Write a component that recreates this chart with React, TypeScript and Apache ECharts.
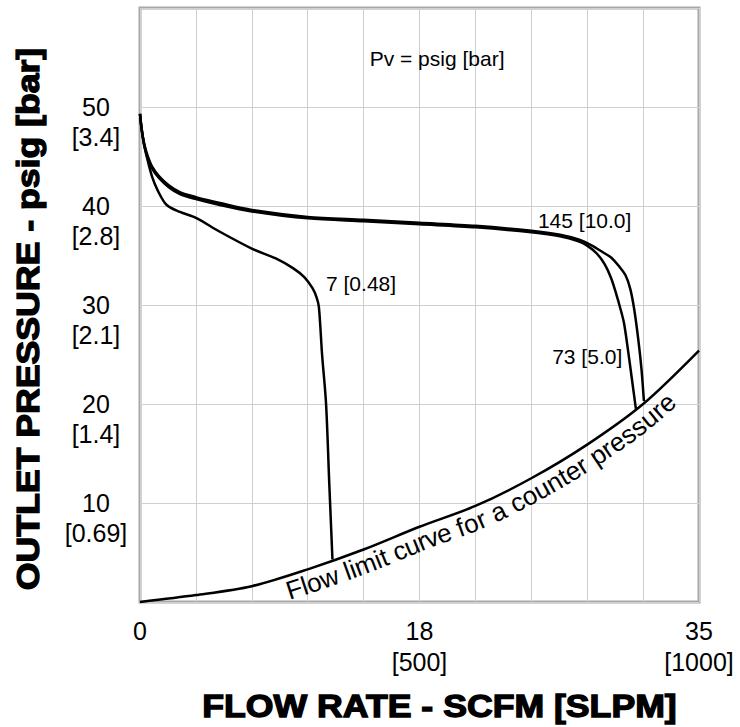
import React, { useEffect, useRef } from 'react';
import * as echarts from 'echarts';

// ---- axes ----
const xMin = 0;
const xMax = 35;
const xStep = 3.5;
const yMin = 0;
const yMax = 60;
const yStep = 10;
const xTickValues = [0, 17.5, 35];
const xTickTexts = ['0', '18\n[500]', '35\n[1000]'];
const yTickValues = [10, 20, 30, 40, 50];
const yTickTexts = ['10\n[0.69]', '20\n[1.4]', '30\n[2.1]', '40\n[2.8]', '50\n[3.4]'];
const xTitle = 'FLOW RATE - SCFM [SLPM]';
const yTitle = 'OUTLET PRESSURE - psig [bar]';

// ---- curves (x = SCFM, y = psig) ----
const flowLimitX = [0, 3.5, 7, 10.5, 14, 17.5, 21, 24.5, 28, 31.5, 35];
const flowLimitY = [0, 0.7, 1.6, 3.3, 5.3, 7.6, 9.7, 12.5, 15.9, 20, 25.4];

const curve7X = [0, 0.1, 0.25, 0.45, 0.75, 1.1, 1.67, 2.5, 3.5, 5, 7, 8.5, 9.6, 10.3, 10.8, 11.05, 11.2, 11.4, 11.65, 11.85, 12.05];
const curve7Y = [49.3, 47.8, 46.2, 44.8, 43.0, 41.6, 40.1, 39.4, 38.8, 37.4, 35.7, 34.7, 33.7, 32.8, 31.7, 30.8, 29.8, 25, 20, 12, 4.3];

const curve145X = [0, 0.1, 0.25, 0.45, 0.75, 1.2, 1.8, 2.5, 3.5, 5, 7, 10.5, 14, 17.5, 21, 24.5, 26.3, 27.5, 28.3, 29, 29.5, 30.0, 30.4, 30.7, 30.95, 31.2, 31.4, 31.55];
const curve145Y = [49.3, 47.8, 46.4, 45.2, 44.0, 43.0, 42.1, 41.4, 40.9, 40.3, 39.6, 38.9, 38.6, 38.3, 38.0, 37.5, 37.1, 36.6, 36.0, 35.3, 34.8, 33.9, 33.0, 31.6, 29.5, 26.5, 23.5, 20.3];

const curve73X = [0, 0.1, 0.25, 0.45, 0.75, 1.2, 1.8, 2.5, 3.5, 5, 7, 10.5, 14, 17.5, 21, 24.5, 26.3, 27.5, 28.0, 28.6, 29.1, 29.5, 29.8, 30.05, 30.3, 30.55, 30.8, 31.05];
const curve73Y = [49.3, 47.8, 46.3, 45.0, 43.8, 42.8, 41.9, 41.2, 40.7, 40.1, 39.45, 38.75, 38.45, 38.15, 37.85, 37.35, 36.95, 36.4, 36.0, 35.2, 34.1, 32.7, 31.2, 29.8, 28.2, 25.5, 22.5, 19.5];

// ---- annotations ----
const annoX = [18.6, 27.84, 13.84, 28.0];
const annoY = [54.85, 38.5, 32.2, 24.75];
const annoText = ['Pv = psig [bar]', '145 [10.0]', '7 [0.48]', '73 [5.0]'];

const flowText = 'Flow limit curve for a counter pressure';
const flowTextStartX = 8.8;
const flowTextEndX = 32.6;

const FONT = '"Liberation Sans", Arial, Helvetica, sans-serif';

function pairs(xs: number[], ys: number[]) {
  return xs.map((x, i) => [x, ys[i]]);
}

function lookup(values: number[], texts: string[], v: number) {
  const i = values.findIndex((t) => Math.abs(t - v) < 1e-6);
  return i >= 0 ? texts[i] : '';
}

export default function App() {
  const ref = useRef<HTMLDivElement>(null);
  useEffect(() => {
    if (!ref.current) return;
    const chart = echarts.init(ref.current, undefined, { renderer: 'svg' });
    const lineStyle = { color: '#000', width: 2.5 };
    chart.setOption({
      animation: false,
      backgroundColor: '#fff',
      grid: {
        left: 140, top: 8, right: 41, bottom: 125,
        show: true, borderColor: '#a8a8a8', borderWidth: 3, backgroundColor: 'transparent',
      },
      xAxis: {
        type: 'value', min: xMin, max: xMax, interval: xStep,
        axisLine: { show: false }, axisTick: { show: false },
        splitLine: { show: true, lineStyle: { color: '#cfcfcf', width: 1 } },
        axisLabel: {
          formatter: (v: number) => lookup(xTickValues, xTickTexts, v),
          fontSize: 25, lineHeight: 31, color: '#000', fontFamily: FONT, margin: 13,
          showMinLabel: true, showMaxLabel: true,
        },
      },
      yAxis: {
        type: 'value', min: yMin, max: yMax, interval: yStep,
        axisLine: { show: false }, axisTick: { show: false },
        splitLine: { show: true, lineStyle: { color: '#cfcfcf', width: 1 } },
        axisLabel: {
          formatter: (v: number) => {
            const t = lookup(yTickValues, yTickTexts, v);
            return t ? ' \n' + t : '';
          },
          fontSize: 25, lineHeight: 30, color: '#000', fontFamily: FONT, margin: 44,
          align: 'center',
        },
      },
      series: [
        { type: 'line', data: pairs(flowLimitX, flowLimitY), showSymbol: false, smooth: 0.3, lineStyle, clip: false },
        { type: 'line', data: pairs(curve7X, curve7Y), showSymbol: false, smooth: 0.3, lineStyle, clip: false },
        { type: 'line', data: pairs(curve145X, curve145Y), showSymbol: false, smooth: 0.3, lineStyle, clip: false },
        { type: 'line', data: pairs(curve73X, curve73Y), showSymbol: false, smooth: 0.3, lineStyle, clip: false },
      ],
    });

    const toPx = (x: number, y: number) => chart.convertToPixel({ gridIndex: 0 }, [x, y]) as number[];
    const elements: any[] = [];

    // ---- annotations ----
    annoText.forEach((t, i) => {
      const p = toPx(annoX[i], annoY[i]);
      elements.push({
        type: 'text', x: p[0], y: p[1], z: 100,
        style: {
          text: t, fill: '#000', font: `21px ${FONT}`,
          textAlign: 'center', textVerticalAlign: 'middle', align: 'center', verticalAlign: 'middle',
        },
      });
    });

    // ---- axis titles ----
    const c0 = toPx(xMin, yMin);
    const c1 = toPx(xMax, yMax);
    const titleFont = `bold 31px ${FONT}`;
    elements.push({
      type: 'text', x: (c0[0] + c1[0]) / 2 + 20, y: c0[1] + 104, scaleX: 1.15, z: 100,
      style: {
        text: xTitle, fill: '#000', font: titleFont, stroke: '#000', lineWidth: 1.3,
        textAlign: 'center', textVerticalAlign: 'middle', align: 'center', verticalAlign: 'middle',
      },
    });
    elements.push({
      type: 'text', x: c0[0] - 112, y: (c0[1] + c1[1]) / 2 + 14, rotation: Math.PI / 2, scaleX: 1.15, z: 100,
      style: {
        text: yTitle, fill: '#000', font: titleFont, stroke: '#000', lineWidth: 1.3,
        textAlign: 'center', textVerticalAlign: 'middle', align: 'center', verticalAlign: 'middle',
      },
    });

    // ---- text along the flow limit curve ----
    const px = flowLimitX.map((x, i) => toPx(x, flowLimitY[i]));
    const dense: number[][] = [];
    for (let i = 0; i < px.length - 1; i++) {
      const p0 = px[Math.max(0, i - 1)], p1 = px[i], p2 = px[i + 1], p3 = px[Math.min(px.length - 1, i + 2)];
      for (let k = 0; k < 20; k++) {
        const t = k / 20, t2 = t * t, t3 = t2 * t;
        const f = (a: number, b: number, c: number, d: number) =>
          0.5 * (2 * b + (-a + c) * t + (2 * a - 5 * b + 4 * c - d) * t2 + (-a + 3 * b - 3 * c + d) * t3);
        dense.push([f(p0[0], p1[0], p2[0], p3[0]), f(p0[1], p1[1], p2[1], p3[1])]);
      }
    }
    dense.push(px[px.length - 1]);
    const cum = [0];
    for (let i = 1; i < dense.length; i++) {
      cum.push(cum[i - 1] + Math.hypot(dense[i][0] - dense[i - 1][0], dense[i][1] - dense[i - 1][1]));
    }
    const at = (s: number) => {
      let i = 1;
      while (i < cum.length - 1 && cum[i] < s) i++;
      const a = dense[i - 1], b = dense[i];
      const seg = cum[i] - cum[i - 1] || 1;
      const t = Math.min(1, Math.max(0, (s - cum[i - 1]) / seg));
      return { x: a[0] + (b[0] - a[0]) * t, y: a[1] + (b[1] - a[1]) * t, ang: Math.atan2(b[1] - a[1], b[0] - a[0]) };
    };
    const arcAtX = (xv: number) => {
      const xp = toPx(xv, 0)[0];
      for (let i = 0; i < dense.length; i++) if (dense[i][0] >= xp) return cum[i];
      return cum[cum.length - 1];
    };
    const sStart = arcAtX(flowTextStartX);
    const sEnd = arcAtX(flowTextEndX);
    const fs = 26;
    const canvas = document.createElement('canvas');
    const ctx = canvas.getContext('2d')!;
    ctx.font = `${fs}px ${FONT}`;
    const total = ctx.measureText(flowText).width;
    const k = (sEnd - sStart) / total;
    let acc = 0;
    for (const ch of flowText) {
      const w = ctx.measureText(ch).width;
      const s = sStart + (acc + w / 2) * k;
      acc += w;
      if (ch === ' ') continue;
      const p = at(s);
      const nx = -Math.sin(p.ang), ny = Math.cos(p.ang);
      const off = 1.5;
      elements.push({
        type: 'text', x: p.x + nx * off, y: p.y + ny * off, rotation: -p.ang, z: 100,
        style: {
          text: ch, fill: '#000', font: `${fs}px ${FONT}`,
          textAlign: 'center', textVerticalAlign: 'top', align: 'center', verticalAlign: 'top',
        },
      });
    }
    chart.setOption({ graphic: { elements } });

    return () => chart.dispose();
  }, []);
  return <div ref={ref} style={{ position: 'absolute', left: 0, top: 0, width: 740, height: 727 }} />;
}
